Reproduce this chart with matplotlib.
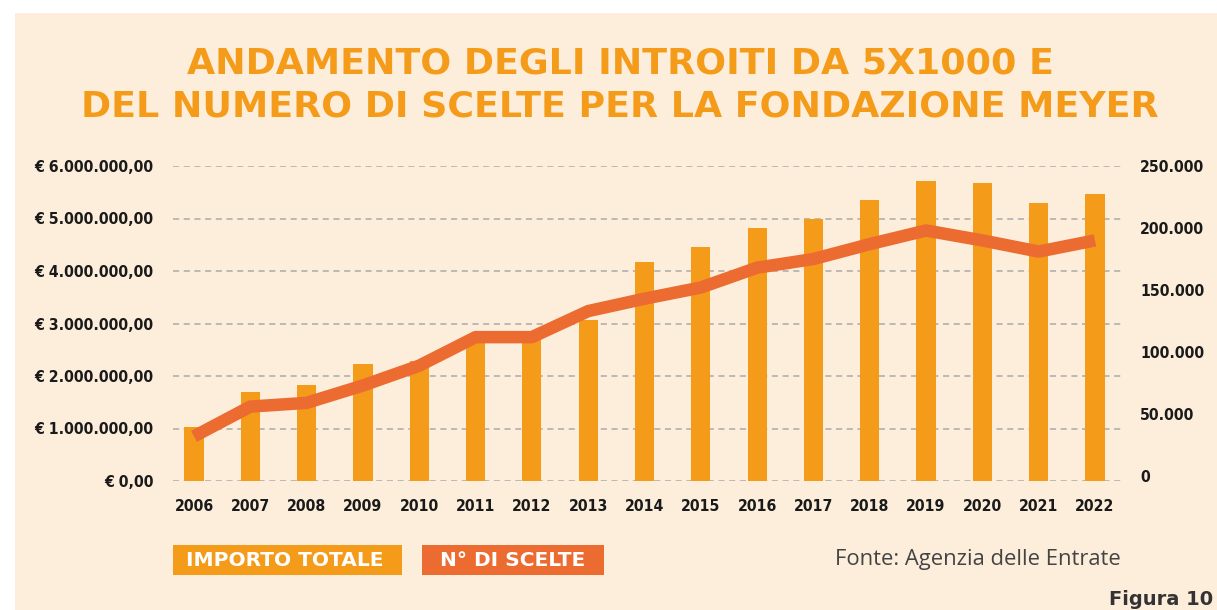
import matplotlib
matplotlib.use("Agg")
import matplotlib.pyplot as plt
from matplotlib.patches import Rectangle
from matplotlib import font_manager

# data
years = ["2006", "2007", "2008", "2009", "2010", "2011", "2012", "2013", "2014",
         "2015", "2016", "2017", "2018", "2019", "2020", "2021", "2022"]
importo = [1030000, 1690000, 1830000, 2230000, 2280000, 2640000, 2780000, 3070000, 4170000,
           4450000, 4810000, 5000000, 5360000, 5720000, 5670000, 5300000, 5460000]
scelte = [32000, 56000, 59000, 73000, 89000, 112000, 112000, 133000, 143000,
          152000, 168000, 175000, 187000, 198000, 190000, 181000, 190000]
left_ticks = [0, 1000000, 2000000, 3000000, 4000000, 5000000, 6000000]
left_labels = ["€ 0,00", "€ 1.000.000,00", "€ 2.000.000,00", "€ 3.000.000,00",
               "€ 4.000.000,00", "€ 5.000.000,00", "€ 6.000.000,00"]
right_ticks = [0, 50000, 100000, 150000, 200000, 250000]
right_labels = ["0", "50.000", "100.000", "150.000", "200.000", "250.000"]

BG = "#FDEEDC"
ORANGE = "#F59B1A"
RED = "#EC6B30"
DARK = "#1a1a1a"

# pick a condensed font for the numbers if one is installed
cond = None
for f in font_manager.fontManager.ttflist:
    if "condensed" in f.fname.lower() or f.stretch == "condensed" or "narrow" in f.fname.lower():
        if f.name in ("DejaVu Sans", "Roboto Condensed", "Liberation Sans Narrow"):
            cond = f.name
            break
num_font = cond if cond else "Roboto"
num_stretch = "condensed" if cond == "DejaVu Sans" else "normal"

fig = plt.figure(figsize=(12.17, 6.10), dpi=100)
fig.patch.set_facecolor("white")
fig.patches.append(Rectangle((15 / 1217, 0), 1, 1 - 13 / 610, transform=fig.transFigure,
                             facecolor=BG, edgecolor="none", zorder=-10))

ax = fig.add_axes([173 / 1217, 1 - 481 / 610, 949 / 1217, 315 / 610])
ax.set_facecolor("none")
x = list(range(len(years)))
ax.bar(x, importo, width=0.34, color=ORANGE, zorder=2)
ax.set_xlim(-0.373, 16.48)
ax.set_ylim(0, 6000000)
ax.set_yticks(left_ticks)
ax.set_yticklabels(left_labels)
ax.set_xticks(x)
ax.set_xticklabels(years)
ax.grid(axis="y", color="#aaaaaa", linestyle=(0, (4, 3)), linewidth=1.1, zorder=0)
ax.tick_params(axis="y", length=0, pad=14)
ax.tick_params(axis="x", length=0, pad=13)
for s in ax.spines.values():
    s.set_visible(False)
for lab in ax.get_yticklabels() + ax.get_xticklabels():
    lab.set_fontfamily(num_font)
    lab.set_fontstretch(num_stretch)
    lab.set_fontweight("bold")
    lab.set_fontsize(11.3)
    lab.set_color(DARK)

ax2 = ax.twinx()
ax2.plot(x, scelte, color=RED, linewidth=9, solid_capstyle="butt", zorder=3)
ax2.set_ylim(-4000, 250000)
ax2.set_yticks(right_ticks)
ax2.set_yticklabels(right_labels)
ax2.tick_params(length=0, pad=13)
for s in ax2.spines.values():
    s.set_visible(False)
for lab in ax2.get_yticklabels():
    lab.set_fontfamily(num_font)
    lab.set_fontstretch(num_stretch)
    lab.set_fontweight("bold")
    lab.set_fontsize(11.3)
    lab.set_color(DARK)

# title
fig.text(620 / 1217, 1 - 64 / 610, "ANDAMENTO DEGLI INTROITI DA 5X1000 E",
         ha="center", va="center", fontsize=26.2, fontweight="heavy",
         fontfamily="DejaVu Sans", color=ORANGE)
fig.text(620 / 1217, 1 - 106 / 610, "DEL NUMERO DI SCELTE PER LA FONDAZIONE MEYER",
         ha="center", va="center", fontsize=26.2, fontweight="heavy",
         fontfamily="DejaVu Sans", color=ORANGE)

# legend boxes
fig.patches.append(Rectangle((173 / 1217, 1 - 575 / 610), 229 / 1217, 30 / 610,
                             transform=fig.transFigure, facecolor=ORANGE, edgecolor="none"))
fig.text(285 / 1217, 1 - 560 / 610, "IMPORTO TOTALE", ha="center", va="center",
         fontsize=14.5, fontweight="bold", fontfamily="DejaVu Sans", color="white")
fig.patches.append(Rectangle((422 / 1217, 1 - 575 / 610), 182 / 1217, 30 / 610,
                             transform=fig.transFigure, facecolor=RED, edgecolor="none"))
fig.text(513 / 1217, 1 - 560 / 610, "N° DI SCELTE", ha="center", va="center",
         fontsize=14.5, fontweight="bold", fontfamily="DejaVu Sans", color="white")

fig.text(1121 / 1217, 1 - 559 / 610, "Fonte: Agenzia delle Entrate", ha="right", va="center",
         fontsize=15.8, fontfamily="Open Sans", color="#444444")
fig.text(1213 / 1217, 1 - 590 / 610, "Figura 10", ha="right", va="top",
         fontsize=14, fontweight="bold", fontfamily="DejaVu Sans", color="#333333")

fig.savefig("out.png", dpi=100, facecolor=fig.get_facecolor())
